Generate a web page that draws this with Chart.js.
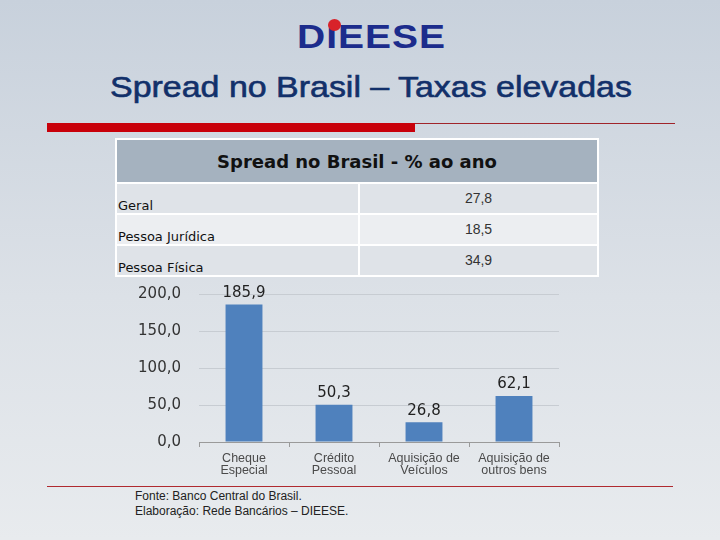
<!DOCTYPE html>
<html>
<head>
<meta charset="utf-8">
<script src="https://cdn.jsdelivr.net/npm/chart.js@4"></script>
<style>
  body { margin: 0; }
  #slide {
    position: relative; width: 720px; height: 540px; overflow: hidden;
    background: linear-gradient(to bottom, #c8d1dc 0%, #dce1e7 55%, #e8ebee 100%);
    font-family: "Liberation Sans", Arial, sans-serif;
  }
  #logo {
    position: absolute; left: 297px; top: 12px; font-weight: bold; font-size: 39px;
    color: #1c2c8c; letter-spacing: 1px; transform: scaleY(0.85); transform-origin: 0 100%;
  }
  #dot { position: absolute; left: 328px; top: 19px; width: 13px; height: 12px; border-radius: 50%; background: #d8232a; }
  #title {
    position: absolute; left: 0; width: 742px; top: 71px; text-align: center;
    font-size: 29px; color: #12306a; -webkit-text-stroke: 0.6px #12306a;
    transform: scaleX(1.17); transform-origin: 371px 0;
  }
  #redbar { position: absolute; left: 47px; top: 123px; width: 368px; height: 9px; background: #c8000a; }
  #redline { position: absolute; left: 415px; top: 123px; width: 260px; height: 1px; background: #a0242a; }
  #footline { position: absolute; left: 47px; top: 486px; width: 626px; height: 1px; background: #b02a30; }
  table {
    position: absolute; left: 115px; top: 138px; width: 484px; border-collapse: collapse;
    border: 2px solid #fff;
  }
  td { border: 2px solid #fff; padding: 0; }
  th {
    height: 42px; padding: 0; background: #a5b2bf; border: 2px solid #fff;
    font-family: "DejaVu Sans", Verdana, sans-serif; font-size: 18px; font-weight: bold; color: #111;
  }
  td.l { width: 240px; height: 29px; vertical-align: bottom; font-family: "DejaVu Sans", Tahoma, sans-serif; font-size: 13px; color: #111; padding-left: 1px; padding-bottom: 0; }
  td.v { vertical-align: top; text-align: center; font-size: 14px; color: #333; padding-top: 6px; }
  tr.a td { background: #dfe3e8; }
  tr.b td { background: #eceef1; }
  #chartBox { position: absolute; left: 120px; top: 267px; width: 450px; height: 213px; }
  #foot { position: absolute; left: 135px; top: 489px; font-size: 12px; color: #222; line-height: 15px; }
</style>
</head>
<body>
<div id="slide">
  <div id="logo">DIEESE</div>
  <div id="dot"></div>
  <div id="title">Spread no Brasil – Taxas elevadas</div>
  <div id="redbar"></div>
  <div id="redline"></div>
  <table>
    <tr><th colspan="2">Spread no Brasil - % ao ano</th></tr>
    <tbody id="rows"></tbody>
  </table>
  <div id="chartBox"><canvas id="chart"></canvas></div>
  <div id="footline"></div>
  <div id="foot">Fonte: Banco Central do Brasil.<br>Elaboração: Rede Bancários – DIEESE.</div>
</div>
<script>
const tableLabels = ['Geral', 'Pessoa Jurídica', 'Pessoa Física'];
const tableValues = [27.8, 18.5, 34.9];

const categories = [['Cheque', 'Especial'], ['Crédito', 'Pessoal'], ['Aquisição de', 'Veículos'], ['Aquisição de', 'outros bens']];
const spreadValues = [185.9, 50.3, 26.8, 62.1];
const yTicks = [0, 50, 100, 150, 200];

const fmt = v => v.toFixed(1).replace('.', ',');

document.getElementById('rows').innerHTML = tableLabels.map((l, i) =>
  `<tr class="${i % 2 ? 'b' : 'a'}"><td class="l">${l}</td><td class="v">${fmt(tableValues[i])}</td></tr>`
).join('');

const valueLabels = {
  id: 'valueLabels',
  afterDatasetsDraw(chart) {
    const ctx = chart.ctx;
    ctx.save();
    ctx.font = '15px "DejaVu Sans", sans-serif';
    ctx.fillStyle = '#222';
    ctx.textAlign = 'center';
    ctx.textBaseline = 'bottom';
    chart.getDatasetMeta(0).data.forEach((bar, i) => {
      ctx.fillText(fmt(spreadValues[i]), bar.x, bar.y - 4);
    });
    ctx.restore();
  }
};

const ctx = document.getElementById('chart').getContext('2d');
new Chart(ctx, {
  type: 'bar',
  data: {
    labels: categories,
    datasets: [{
      data: spreadValues,
      backgroundColor: '#4f81bd',
      barPercentage: 0.41,
      categoryPercentage: 1
    }]
  },
  options: {
    responsive: true,
    maintainAspectRatio: false,
    animation: false,
    layout: { padding: { top: 12, right: 11, bottom: 0, left: 0 } },
    plugins: { legend: { display: false }, tooltip: { enabled: false } },
    scales: {
      x: {
        grid: { offset: true, drawOnChartArea: false, tickLength: 5, color: '#9a9a9a' },
        border: { color: '#9a9a9a' },
        ticks: { color: '#4a4a4a', font: { size: 12.5, family: '"Liberation Sans", Arial', lineHeight: 1.0 }, padding: 5, maxRotation: 0 },
        afterFit: s => { s.height = 38; }
      },
      y: {
        min: 0, max: 200,
        afterBuildTicks: s => { s.ticks = yTicks.map(v => ({ value: v })); },
        grid: { color: '#c7ccd2', tickLength: 0 },
        border: { display: false },
        ticks: { callback: v => fmt(v), color: '#333', font: { size: 15, family: '"DejaVu Sans", sans-serif' }, padding: 18 },
        afterFit: s => { s.width = 79; }
      }
    }
  },
  plugins: [valueLabels]
});
</script>
</body>
</html>
